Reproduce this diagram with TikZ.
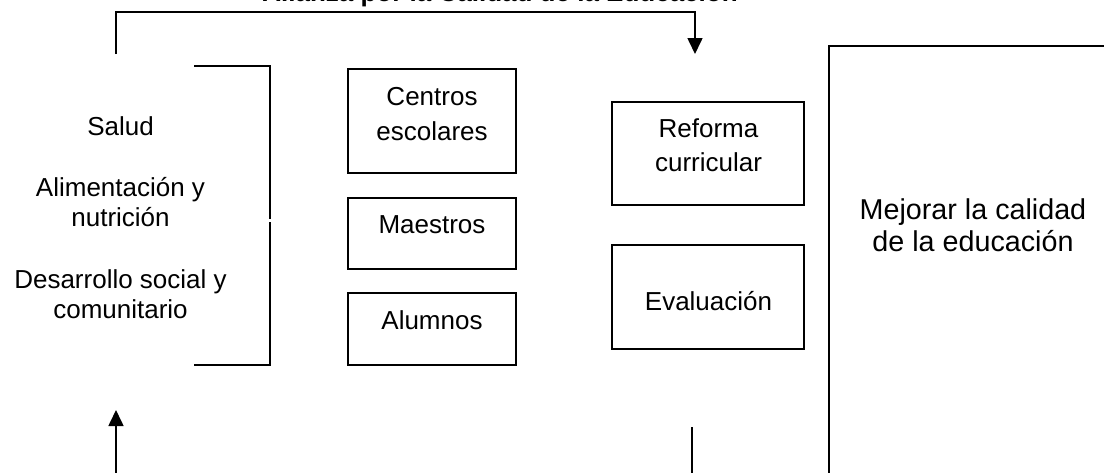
\documentclass[tikz,border=0pt]{standalone}
\usepackage{fontspec}
\setmainfont{Liberation Sans}
\usetikzlibrary{arrows.meta}
\tikzset{
  txt/.style={anchor=base, inner sep=0pt, font=\fontsize{26}{30}\selectfont},
  bigtxt/.style={anchor=base, inner sep=0pt, font=\fontsize{28.7}{33}\selectfont},
  titletxt/.style={anchor=base, inner sep=0pt, font=\fontsize{26}{30}\selectfont\bfseries},
  boxed/.style={draw, line width=1.5pt, inner sep=0pt},
  conn/.style={line width=1.6pt},
  arr/.style={line width=1.6pt, -{Triangle[length=16pt, width=15pt]}}
}
\begin{document}
\begin{tikzpicture}[x=1pt, y=-1pt]
\useasboundingbox (0,0) rectangle (1104,472);
\clip (0,0) rectangle (1104,472);
\fill[white] (0,0) rectangle (1104,472);

% title (mostly cut off at the top, as in the reference)
\node[titletxt] (title) at (500,1.5) {Alianza por la Calidad de la Educación};

% feedback connector at the top
\coordinate (topL) at (116,54);
\coordinate (topR) at (695,54);
\draw[arr] (topL) -- (116,12) -- (695,12) -- (topR);

% left bracket
\coordinate (brA) at (194,66);
\coordinate (brB) at (194,365);
\draw[conn] (brA) -- (270,66) -- (270,219);
\draw[conn] (270,222) -- (270,365) -- (brB);

% left texts
\node[txt] (salud) at (120.5,135) {Salud};
\node[txt] (alim1) at (120.5,196.7) {Alimentación y};
\node[txt] (alim2) at (120.5,226.7) {nutrición};
\node[txt] (des1) at (120.5,288.3) {Desarrollo social y};
\node[txt] (des2) at (120.5,318.3) {comunitario};

% middle boxes
\node[boxed, minimum width=168pt, minimum height=104pt] (centros) at (432,121) {};
\node[txt] (centros1) at (432,105) {Centros};
\node[txt] (centros2) at (432,140) {escolares};
\node[boxed, minimum width=168pt, minimum height=71pt] (maestros) at (432,233.5) {};
\node[txt] (maestrosT) at (432,233.3) {Maestros};
\node[boxed, minimum width=168pt, minimum height=72pt] (alumnos) at (432,329) {};
\node[txt] (alumnosT) at (432,329.3) {Alumnos};

% right boxes
\node[boxed, minimum width=192pt, minimum height=103pt] (reforma) at (708,153.5) {};
\node[txt] (reforma1) at (708.5,137.7) {Reforma};
\node[txt] (reforma2) at (708.5,171.7) {curricular};
\node[boxed, minimum width=192pt, minimum height=104pt] (evaluacion) at (708,297) {};
\node[txt] (evaluacionT) at (708.5,310.7) {Evaluación};

% large box (runs off the page)
\node[boxed, anchor=north west, minimum width=320pt, minimum height=460pt] (mejorar) at (828,45) {};
\node[bigtxt] (mej1) at (973,219.3) {Mejorar la calidad};
\node[bigtxt] (mej2) at (973,251.7) {de la educación};

% bottom connectors
\coordinate (botL) at (116,410);
\coordinate (botLs) at (116,480);
\draw[arr] (botLs) -- (botL);
\coordinate (botM) at (692,427);
\coordinate (botMs) at (692,480);
\draw[conn] (botM) -- (botMs);
\end{tikzpicture}
\end{document}
